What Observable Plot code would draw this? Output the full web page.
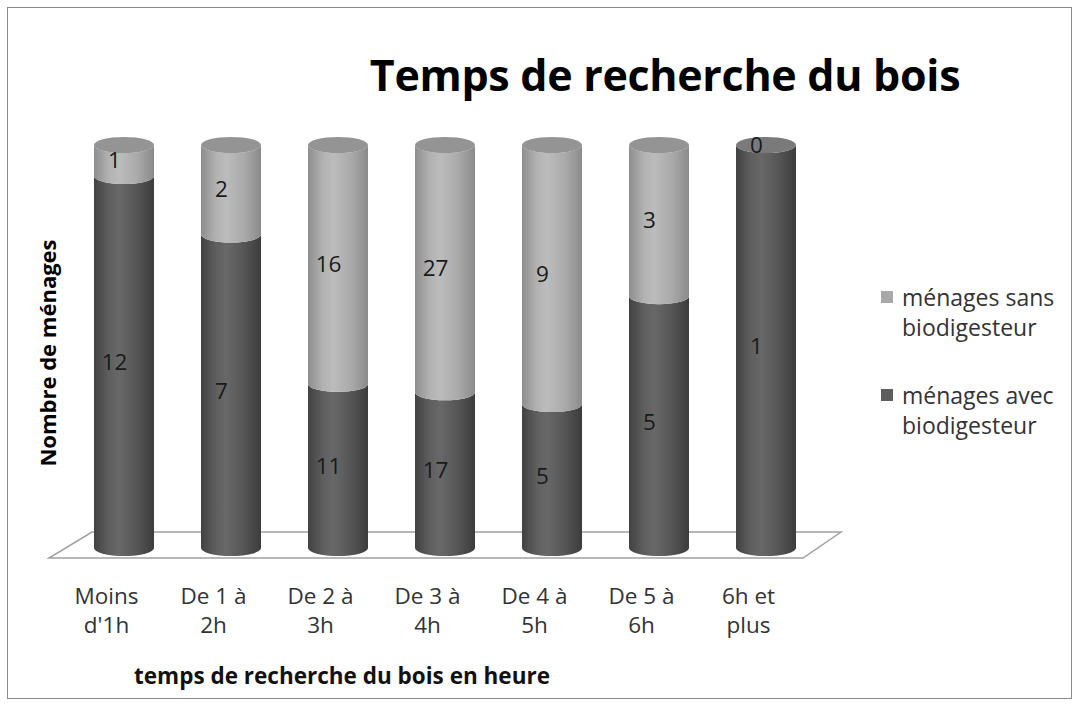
<!DOCTYPE html>
<html>
<head>
<meta charset="utf-8">
<script src="https://cdn.jsdelivr.net/npm/d3@7"></script>
<script src="https://cdn.jsdelivr.net/npm/@observablehq/plot@0.6"></script>
<style>
  body { margin: 0; background: #fff; font-family: "Open Sans", Lato, sans-serif; }
  #wrap { position: relative; width: 1081px; height: 707px; overflow: hidden; background: #fff; }
  #frame { position: absolute; left: 7px; top: 7px; width: 1065px; height: 692px; border: 1.5px solid #8a8a8a; box-sizing: border-box; }
  #title { position: absolute; left: 300px; width: 730px; top: 75px; transform: translateY(-50%); text-align: center; font-weight: bold; font-size: 43px; line-height: 50px; color: #000; letter-spacing: -0.3px; }
  #ytitle { position: absolute; left: 47px; top: 353px; transform: translate(-50%, -50%) rotate(-90deg); font-weight: bold; font-size: 22px; color: #000; white-space: nowrap; }
  #xtitle { position: absolute; left: 342px; top: 675px; transform: translate(-50%, -50%); font-weight: bold; font-size: 22.5px; color: #111; white-space: nowrap; }
  #legend { position: absolute; left: 881px; top: 282px; font-size: 23px; color: #333; line-height: 30px; }
  .item { position: relative; padding-left: 21px; margin-bottom: 38px; }
  .sw { position: absolute; left: 0; top: 9px; width: 12px; height: 12px; }
  #chart { position: absolute; left: 0; top: 0; }
</style>
</head>
<body>
<div id="wrap">
  <div id="frame"></div>
  <div id="chart"></div>
  <div id="title"></div>
  <div id="ytitle"></div>
  <div id="xtitle"></div>
  <div id="legend"></div>
</div>
<script>
const titleText = "Temps de recherche du bois";
const yTitle = "Nombre de ménages";
const xTitle = "temps de recherche du bois en heure";
const categories = ["Moins d'1h", "De 1 à 2h", "De 2 à 3h", "De 3 à 4h", "De 4 à 5h", "De 5 à 6h", "6h et plus"];
const tickLabels = ["Moins\nd'1h", "De 1 à\n2h", "De 2 à\n3h", "De 3 à\n4h", "De 4 à\n5h", "De 5 à\n6h", "6h et\nplus"];
const avec = [12, 7, 11, 17, 5, 5, 1];
const sans = [1, 2, 16, 27, 9, 3, 0];
const seriesNames = ["ménages avec biodigesteur", "ménages sans biodigesteur"];
const legendLines = [["ménages sans", "biodigesteur"], ["ménages avec", "biodigesteur"]];
const seriesColors = ["#5e5e5e", "#a8a8a8"];
const capColors = ["#7a7a7a", "#949494"];

const rows = categories.flatMap((c, i) => [
  {cat: c, series: seriesNames[0], value: avec[i]},
  {cat: c, series: seriesNames[1], value: sans[i]}
]);

document.getElementById("title").textContent = titleText;
document.getElementById("ytitle").textContent = yTitle;
document.getElementById("xtitle").textContent = xTitle;
const leg = document.getElementById("legend");
[[1, legendLines[0]], [0, legendLines[1]]].forEach(([k, lines]) => {
  const it = document.createElement("div");
  it.className = "item";
  const sw = document.createElement("span");
  sw.className = "sw";
  sw.style.background = seriesColors[k];
  it.appendChild(sw);
  lines.forEach(l => { const d = document.createElement("div"); d.textContent = l; it.appendChild(d); });
  leg.appendChild(it);
});

function floor(index, scales, values, dims) {
  const xL = dims.marginLeft, xR = dims.width - dims.marginRight;
  const y0 = scales.y(0);
  const pts = [[xL + 24, y0 - 16], [xR + 19, y0 - 16], [xR - 19, y0 + 10], [xL - 19, y0 + 10]];
  const g = d3.create("svg:g");
  g.append("polygon").attr("points", pts.map(p => p.join(",")).join(" "))
    .attr("fill", "#fff").attr("stroke", "#a0a0a0").attr("stroke-width", 1.5);
  return g.node();
}

function cylinders(index, scales, values, dims) {
  const xs = scales.x, ys = scales.y;
  const bw = (scales.scales && scales.scales.x && scales.scales.x.bandwidth) || (xs.bandwidth ? xs.bandwidth() : 60);
  const rx = bw / 2, ry = 8;
  const g = d3.create("svg:g");
  const defs = g.append("defs");
  const grads = [
    ["#414141", "#5f5f5f", "#686868", "#555555", "#3c3c3c"],
    ["#8e8e8e", "#b2b2b2", "#bcbcbc", "#aaaaaa", "#8a8a8a"]
  ];
  grads.forEach((stops, k) => {
    const lg = defs.append("linearGradient").attr("id", "cylgrad" + k).attr("x1", 0).attr("x2", 1).attr("y1", 0).attr("y2", 0);
    [0, 0.25, 0.42, 0.72, 1].forEach((o, j) => lg.append("stop").attr("offset", o).attr("stop-color", stops[j]));
  });
  categories.forEach((c, i) => {
    const x0 = xs(c), x1 = x0 + bw;
    const total = avec[i] + sans[i];
    const segs = [[0, avec[i] / total, 0], [avec[i] / total, 1, 1]];
    segs.forEach(([a, b, k]) => {
      if (b - a <= 0) return;
      const yb = ys(a), yt = ys(b);
      g.append("path")
        .attr("d", `M${x0},${yt}A${rx},${ry} 0 0 0 ${x1},${yt}L${x1},${yb}A${rx},${ry} 0 0 1 ${x0},${yb}Z`)
        .attr("fill", `url(#cylgrad${k})`);
    });
    const topK = sans[i] > 0 ? 1 : 0;
    g.append("ellipse").attr("cx", x0 + rx).attr("cy", ys(1)).attr("rx", rx).attr("ry", ry)
      .attr("fill", capColors[topK]);
  });
  return g.node();
}

const chart = Plot.plot({
  width: 1081,
  height: 707,
  marginLeft: 68,
  marginRight: 259,
  marginTop: 145,
  marginBottom: 159,
  style: {background: "transparent", fontFamily: "'Open Sans', Lato, sans-serif"},
  x: {type: "band", domain: categories, paddingInner: 0.443, paddingOuter: 0.2215, axis: null},
  y: {domain: [0, 1], axis: null},
  marks: [
    floor,
    cylinders,
    Plot.text(rows, Plot.stackY({
      x: "cat", y: "value", z: "series", offset: "normalize",
      text: d => String(d.value), fontSize: 22.5, fill: "#1a1a1a", dx: -10
    })),
    Plot.text(categories, {
      x: d => d, y: () => 0, text: (d, i) => tickLabels[i],
      dy: 61, dx: -18, lineHeight: 1.28, fontSize: 22.5, fill: "#333", lineAnchor: "middle"
    })
  ]
});
document.getElementById("chart").appendChild(chart);
</script>
</body>
</html>
